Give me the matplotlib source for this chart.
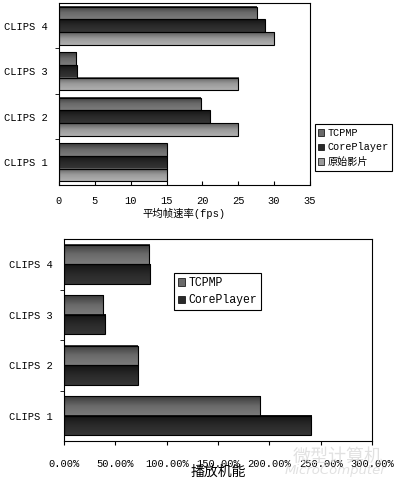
import numpy as np
import matplotlib
matplotlib.use("Agg")
import matplotlib.pyplot as plt
from matplotlib.colors import LinearSegmentedColormap
from matplotlib.patches import Patch
from matplotlib.ticker import FuncFormatter

plt.rcParams['font.family'] = ['Liberation Mono', 'Noto Sans CJK SC', 'DejaVu Sans']

clips = ['CLIPS 1', 'CLIPS 2', 'CLIPS 3', 'CLIPS 4']

# 平均帧速率 (fps)
fps_tcpmp = [15.0, 19.8, 2.4, 27.6]
fps_core = [15.0, 21.0, 2.5, 28.7]
fps_orig = [15.0, 25.0, 25.0, 30.0]

# 播放机能 (%)
perf_tcpmp = [191.0, 72.0, 38.0, 83.0]
perf_core = [241.0, 72.5, 40.0, 84.0]

# gradient stops per series (top -> bottom of a bar)
grad_tcpmp = ['#3a3a3a', '#6a6a6a', '#7c7c7c']
grad_core = ['#141414', '#2a2a2a', '#363636']
grad_orig = ['#5e5e5e', '#9a9a9a', '#b0b0b0']


def gradient_bars(ax, y, values, height, stops):
    cmap = LinearSegmentedColormap.from_list('g', stops)
    grad = np.linspace(0, 1, 64).reshape(-1, 1)
    bars = ax.barh(y, values, height=height, color='none', edgecolor='black',
                   linewidth=0.8, zorder=3)
    for b in bars:
        x0, y0 = b.get_xy()
        ax.imshow(grad, extent=[x0, x0 + b.get_width(), y0, y0 + b.get_height()],
                  cmap=cmap, aspect='auto', origin='upper', zorder=2,
                  interpolation='bilinear')
    return bars


def style_axes(ax):
    for s in ax.spines.values():
        s.set_linewidth(0.8)
        s.set_color('black')
    ax.set_ylim(-0.5, 3.5)
    ax.set_yticks(range(len(clips)))
    ax.set_yticklabels(clips, fontsize=7.5)
    ax.tick_params(axis='y', length=0, pad=8)
    ax.set_yticks([0.5, 1.5, 2.5], minor=True)
    ax.tick_params(axis='y', which='minor', length=3, direction='out')


fig = plt.figure(figsize=(4, 4.8), dpi=100)

# upper chart
ax1 = fig.add_axes([0.1475, 0.6146, 0.6275, 0.3794])
y = np.arange(len(clips))
h = 0.28
gradient_bars(ax1, y + h, fps_tcpmp, h, grad_tcpmp)
gradient_bars(ax1, y, fps_core, h, grad_core)
gradient_bars(ax1, y - h, fps_orig, h, grad_orig)
ax1.set_xlim(0, 35)
ax1.set_xticks(np.arange(0, 36, 5))
ax1.tick_params(axis='x', direction='in', length=3, labelsize=7.5, pad=8)
style_axes(ax1)
ax1.set_xlabel('平均帧速率(fps)', fontsize=7.5, labelpad=1)

handles1 = [Patch(facecolor=grad_tcpmp[1], edgecolor='black', linewidth=0.5, label='TCPMP'),
            Patch(facecolor=grad_core[1], edgecolor='black', linewidth=0.5, label='CorePlayer'),
            Patch(facecolor=grad_orig[1], edgecolor='black', linewidth=0.5, label='原始影片')]
leg1 = fig.legend(handles=handles1, loc='upper left', bbox_to_anchor=(0.787, 0.741),
                  fontsize=7.3, frameon=True, fancybox=False, edgecolor='black',
                  framealpha=1, handlelength=0.6, handleheight=0.6,
                  handletextpad=0.3, borderpad=0.35, labelspacing=0.45,
                  borderaxespad=0)
leg1.get_frame().set_linewidth(0.8)

# lower chart
ax2 = fig.add_axes([0.16, 0.081, 0.77, 0.421])
h2 = 0.385
gradient_bars(ax2, y + h2 / 2, perf_tcpmp, h2, grad_tcpmp)
gradient_bars(ax2, y - h2 / 2, perf_core, h2, grad_core)
ax2.set_xlim(0, 300)
ax2.set_xticks(np.arange(0, 301, 50))
ax2.xaxis.set_major_formatter(FuncFormatter(lambda v, p: '%.2f%%' % v))
ax2.tick_params(axis='x', direction='out', length=3, labelsize=7.5, pad=10)
style_axes(ax2)
ax2.set_xlabel('播放机能', fontsize=10, labelpad=-3)

handles2 = handles1[:2]
leg2 = fig.legend(handles=handles2, loc='upper left', bbox_to_anchor=(0.435, 0.431),
                  fontsize=8.3, frameon=True, fancybox=False, edgecolor='black',
                  framealpha=1, handlelength=0.6, handleheight=0.6,
                  handletextpad=0.3, borderpad=0.35, labelspacing=0.45,
                  borderaxespad=0)
leg2.get_frame().set_linewidth(0.8)

# publication watermark
fig.text(0.845, 0.037, '微型计算机', fontsize=13, color='#dcdcdc', ha='center',
         family=['Noto Sans CJK SC'], alpha=0.85)
fig.text(0.84, 0.012, 'MicroComputer', fontsize=9.5, color='#dcdcdc', ha='center',
         family=['DejaVu Sans'], style='italic', alpha=0.85)

fig.savefig('out.png', dpi=100)
